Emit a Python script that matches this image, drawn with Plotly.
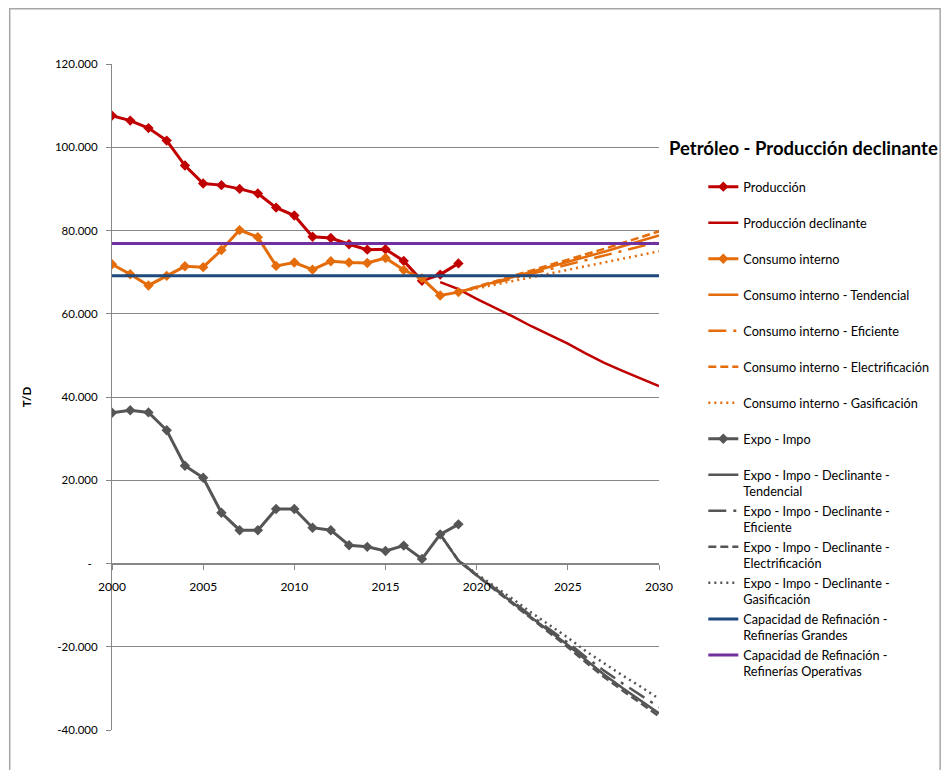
import plotly.graph_objects as go

# ---- data (T/D) ----
years_hist = list(range(2000, 2020))
produccion = [107600, 106400, 104600, 101600, 95600, 91300, 90900, 90000, 88900, 85500,
              83600, 78500, 78200, 76700, 75400, 75500, 72700, 67900, 69400, 72100]
consumo = [71900, 69500, 66800, 69100, 71400, 71200, 75300, 80100, 78400, 71500,
           72300, 70600, 72600, 72300, 72200, 73400, 70500, 68500, 64400, 65200]
expo_impo = [36200, 36800, 36300, 32000, 23500, 20600, 12200, 8000, 8000, 13100,
             13100, 8600, 8000, 4400, 4000, 3000, 4300, 1100, 7000, 9400]

years_decl = list(range(2018, 2031))
prod_declinante = [67600, 65900, 63600, 61500, 59300, 57000, 54900, 52800, 50400,
                   48200, 46300, 44500, 42600]

years_esc = list(range(2019, 2031))
cons_tendencial = [65200, 66400, 67600, 68800, 70000, 71200, 72400, 73600, 74900, 76200, 77500, 78800]
cons_eficiente = [65200, 66300, 67400, 68500, 69600, 70700, 71800, 72900, 74000, 75100, 76200, 77300]
cons_electrif = [65200, 66500, 67800, 69000, 70300, 71600, 72900, 74200, 75600, 77000, 78400, 79800]
cons_gasif = [65200, 66100, 67000, 67900, 68800, 69700, 70600, 71500, 72300, 73200, 74100, 75000]

expo_tendencial = [7000, 700, -2800, -6100, -9500, -13000, -16300, -19600, -23200, -26700, -29900, -33000, -36000]
expo_eficiente = [7000, 700, -2700, -5900, -9200, -12600, -15800, -19000, -22500, -25800, -28800, -31700, -34500]
expo_electrif = [7000, 700, -2900, -6300, -9700, -13300, -16700, -20100, -23800, -27300, -30500, -33600, -36700]
expo_gasif = [7000, 700, -2500, -5500, -8600, -11800, -14800, -17800, -21100, -24100, -26900, -29600, -32500]

years_cap = [2000, 2030]
cap_grandes = 69100
cap_operativas = 76900

y_ticks = [-40000, -20000, 0, 20000, 40000, 60000, 80000, 100000, 120000]
y_tick_text = ["-40.000", "-20.000", "-\u00a0\u00a0", "20.000", "40.000", "60.000",
               "80.000", "100.000", "120.000"]
x_ticks = [2000, 2005, 2010, 2015, 2020, 2025, 2030]

# ---- styles ----
RED = "#C00000"
ORANGE = "#E46C0A"
GRAY = "#555555"
BLUE = "#1F497D"
PURPLE = "#7030A0"
GRID = "#878787"
FONT = "Lato, 'Open Sans', sans-serif"
LONGDASHDOT = "18px,7px,3px,7px"
DASH = "8px,4px"
DOT = "2px,4px"

fig = go.Figure()


def add(x, y, name, color, width, dash="solid", markers=False):
    fig.add_trace(go.Scatter(
        x=x, y=y, name=name,
        mode="lines+markers" if markers else "lines",
        line=dict(color=color, width=width, dash=dash),
        marker=dict(symbol="diamond", size=8, color=color) if markers else None,
    ))


add(years_hist, produccion, "Producción<br> ", RED, 3, markers=True)
add(years_decl, prod_declinante, "Producción declinante<br> ", RED, 2.5)
add(years_hist, consumo, "Consumo interno<br> ", ORANGE, 3, markers=True)
add(years_esc, cons_tendencial, "Consumo interno - Tendencial<br> ", ORANGE, 2.5)
add(years_esc, cons_eficiente, "Consumo interno - Eficiente<br> ", ORANGE, 2.5, LONGDASHDOT)
add(years_esc, cons_electrif, "Consumo interno - Electrificación<br> ", ORANGE, 2.5, DASH)
add(years_esc, cons_gasif, "Consumo interno - Gasificación<br> ", ORANGE, 2.5, DOT)
add(years_hist, expo_impo, "Expo - Impo<br> ", GRAY, 3, markers=True)
add(years_decl, expo_tendencial, "Expo - Impo - Declinante -<br>Tendencial", GRAY, 2.5)
add(years_decl, expo_eficiente, "Expo - Impo - Declinante -<br>Eficiente", GRAY, 2.5, LONGDASHDOT)
add(years_decl, expo_electrif, "Expo - Impo - Declinante -<br>Electrificación", GRAY, 2.5, DASH)
add(years_decl, expo_gasif, "Expo - Impo - Declinante -<br>Gasificación", GRAY, 2.5, DOT)
add(years_cap, [cap_grandes] * len(years_cap),
    "Capacidad de Refinación -<br>Refinerías Grandes", BLUE, 3)
add(years_cap, [cap_operativas] * len(years_cap),
    "Capacidad de Refinación -<br>Refinerías Operativas", PURPLE, 3)

y_min, y_max = -40000, 120000
zero_pos = (0 - y_min) / (y_max - y_min)

fig.update_layout(
    width=941, height=770,
    margin=dict(l=112, r=282, t=64, b=40, autoexpand=False),
    paper_bgcolor="white", plot_bgcolor="white",
    font=dict(family=FONT, size=11, color="#000000"),
    showlegend=True,
    legend=dict(
        x=1.081, xanchor="left", y=0.838, yanchor="top",
        font=dict(family=FONT, size=12.7, color="#000000"),
        valign="top", traceorder="normal",
        bgcolor="rgba(0,0,0,0)",
    ),
    xaxis=dict(
        range=[2000, 2030], tickvals=x_ticks, ticktext=[str(v) for v in x_ticks],
        anchor="free", position=zero_pos,
        showline=True, linecolor=GRID, linewidth=1,
        ticks="outside", ticklen=5, tickcolor=GRID, ticklabelstandoff=7,
        showgrid=False, zeroline=False,
        tickfont=dict(family=FONT, size=12),
    ),
    yaxis=dict(
        range=[y_min, y_max], tickvals=y_ticks, ticktext=y_tick_text,
        showline=True, linecolor=GRID, linewidth=1,
        ticks="outside", ticklen=5, tickcolor=GRID, ticklabelstandoff=6,
        showgrid=True, gridcolor=GRID, gridwidth=1, zeroline=False,
        tickfont=dict(family=FONT, size=11.5),
        title=dict(text="<b>T/D</b>", standoff=20, font=dict(family=FONT, size=11.5)),
    ),
    annotations=[dict(
        text="<b>Petróleo - Producción declinante</b>",
        xref="paper", yref="paper", x=1.014, y=0.874,
        xanchor="left", yanchor="middle", showarrow=False,
        font=dict(family=FONT, size=18.5, color="#000000"),
    )],
    shapes=[dict(
        type="rect", xref="paper", yref="paper",
        x0=-0.187, x1=1.514, y0=-0.08, y1=1.083,
        line=dict(color="#A6A6A6", width=1.5), fillcolor="rgba(0,0,0,0)", layer="below",
    )],
)

fig.write_html("out.html")
